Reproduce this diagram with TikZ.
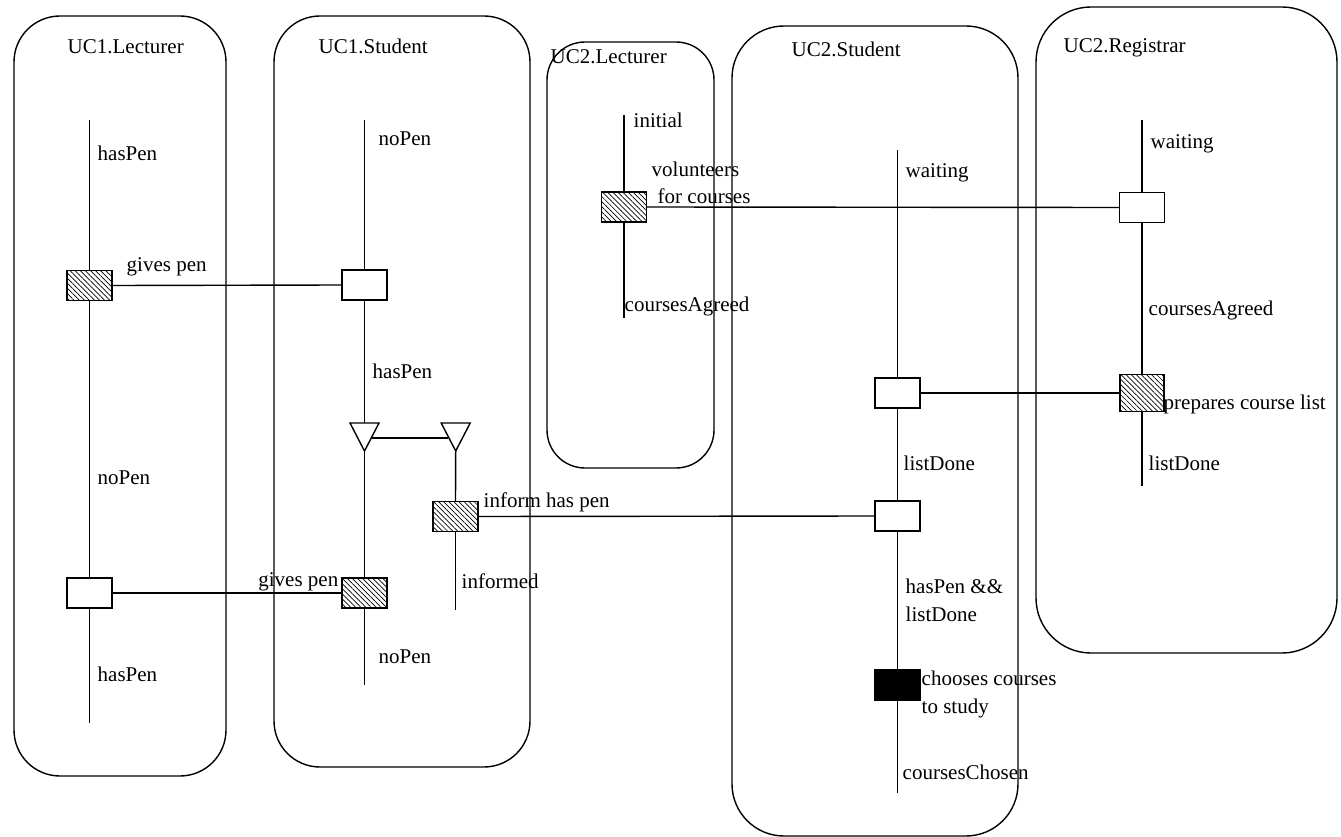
\documentclass[tikz,border=0pt]{standalone}
\usepackage{fontspec}
\setmainfont{Liberation Serif}
\usetikzlibrary{patterns.meta}
\begin{document}
\begin{tikzpicture}[x=1pt,y=-1pt,line width=1.4pt,
  lane/.style={draw,line width=1.4pt},
  evbox/.style={draw,line width=1.4pt,minimum width=45pt,minimum height=30pt,inner sep=0pt,outer sep=0pt},
  hatchbox/.style={evbox,pattern={Lines[angle=-45,distance=3.6pt,line width=0.7pt]}},
  plainbox/.style={evbox,fill=white},
  solidbox/.style={evbox,fill=black},
  lbl/.style={anchor=base west,inner sep=0pt,font=\fontsize{21}{24}\selectfont},
  tri/.style={draw,line width=1.4pt,fill=white,line join=miter}]
\useasboundingbox (0,0) rectangle (1341,837);

% lanes
\draw[lane,rounded corners=46pt] (14,16) rectangle (226,776);
\draw[lane,rounded corners=46pt] (274,16) rectangle (530,767);
\draw[lane,rounded corners=38pt] (547,42) rectangle (714,468);
\draw[lane,rounded corners=52pt] (732,26) rectangle (1018,836);
\draw[lane,rounded corners=55pt] (1036,7) rectangle (1337,653);

% titles
\node[lbl] (t1) at (67,54) {UC1.Lecturer};
\node[lbl] (t2) at (318,54) {UC1.Student};
\node[lbl] (t3) at (550,64) {UC2.Lecturer};
\node[lbl] (t4) at (791,57) {UC2.Student};
\node[lbl] (t5) at (1063,53) {UC2.Registrar};

% ---------- UC1.Lecturer ----------
\coordinate (L1top) at (89.5,120);
\coordinate (L1end) at (89.5,723);
\node[hatchbox] (L1a) at (89.5,285.5) {};
\node[plainbox] (L1b) at (89.5,593) {};
\draw (L1top) -- (L1a.north);
\draw (L1a.south) -- (L1b.north);
\draw (L1b.south) -- (L1end);
\node[lbl] (l1s1) at (97,161) {hasPen};
\node[lbl] (l1e1) at (126,271) {gives pen};
\node[lbl] (l1s2) at (97,484) {noPen};
\node[lbl] (l1s3) at (97,681) {hasPen};

% ---------- UC1.Student ----------
\coordinate (S1top) at (364.5,120);
\coordinate (S1end) at (364.5,685);
\node[plainbox] (S1a) at (364.5,285) {};
\node[hatchbox] (S1b) at (364.5,593) {};
\node[hatchbox] (S1c) at (455.5,516.5) {};
\coordinate (TLtop) at (364.5,423);
\coordinate (TLapex) at (364.5,451);
\coordinate (TRapex) at (455.7,451);
\coordinate (TLr) at (372,438);
\coordinate (TRl) at (448,438);
\coordinate (S1cend) at (455.5,610);
\draw (S1top) -- (S1a.north);
\draw (S1a.south) -- (TLtop);
\draw[tri] (350,423) -- (379,423) -- (364.5,451) -- cycle;
\draw[tri] (441.2,423) -- (470.2,423) -- (455.7,451) -- cycle;
\draw (TLr) -- (TRl);
\draw (TLapex) -- (S1b.north);
\draw (S1b.south) -- (S1end);
\draw (TRapex) -- (S1c.north);
\draw (S1c.south) -- (S1cend);
\node[lbl] (s1s1) at (378,146) {noPen};
\node[lbl] (s1s2) at (372,378) {hasPen};
\node[lbl,anchor=base east] (s1e1) at (339,586) {gives pen};
\node[lbl] (s1s3) at (378,663) {noPen};
\node[lbl] (s1e2) at (483,507) {inform has pen};
\node[lbl] (s1s4) at (461,588) {informed};

% ---------- UC2.Lecturer ----------
\coordinate (L2top) at (624,115);
\coordinate (L2end) at (624,318);
\node[hatchbox] (L2a) at (624,207) {};
\draw (L2top) -- (L2a.north);
\draw (L2a.south) -- (L2end);
\node[lbl] (l2s1) at (633,128) {initial};
\node[lbl] (l2e1) at (651,177) {volunteers};
\node[lbl] (l2e2) at (657,204) {for courses};
\node[lbl] (l2s2) at (624,311) {coursesAgreed};

% ---------- UC2.Student ----------
\coordinate (S2top) at (897.5,150);
\coordinate (S2end) at (897.5,793);
\node[plainbox] (S2a) at (897.5,393) {};
\node[plainbox] (S2b) at (897.5,516) {};
\node[solidbox] (S2c) at (897.5,685) {};
\draw (S2top) -- (S2a.north);
\draw (S2a.south) -- (S2b.north);
\draw (S2b.south) -- (S2c.north);
\draw (S2c.south) -- (S2end);
\node[lbl] (s2s1) at (905,178) {waiting};
\node[lbl] (s2s2) at (903,470) {listDone};
\node[lbl] (s2s3) at (905,593) {hasPen \&\&};
\node[lbl] (s2s4) at (905,621) {listDone};
\node[lbl] (s2e1) at (921,685) {chooses courses};
\node[lbl] (s2e2) at (921,713) {to study};
\node[lbl] (s2s5) at (902,779) {coursesChosen};

% ---------- UC2.Registrar ----------
\coordinate (R2top) at (1142,120);
\coordinate (R2end) at (1142,486);
\node[plainbox] (R2a) at (1142,207.5) {};
\node[hatchbox,minimum height=37pt,minimum width=44pt] (R2b) at (1142,393) {};
\draw (R2top) -- (R2a.north);
\draw (R2a.south) -- (R2b.north);
\draw (R2b.south) -- (R2end);
\node[lbl] (r2s1) at (1150,149) {waiting};
\node[lbl] (r2s2) at (1148,315) {coursesAgreed};
\node[lbl] (r2e1) at (1163,409) {prepares course list};
\node[lbl] (r2s3) at (1148,470) {listDone};

% ---------- connectors ----------
\draw (L1a.east) -- (S1a.west);
\draw (L1b.east) -- (S1b.west);
\draw (S1c.east) -- (S2b.west);
\draw (L2a.east) -- (R2a.west);
\draw (S2a.east) -- (R2b.west);
\end{tikzpicture}
\end{document}
